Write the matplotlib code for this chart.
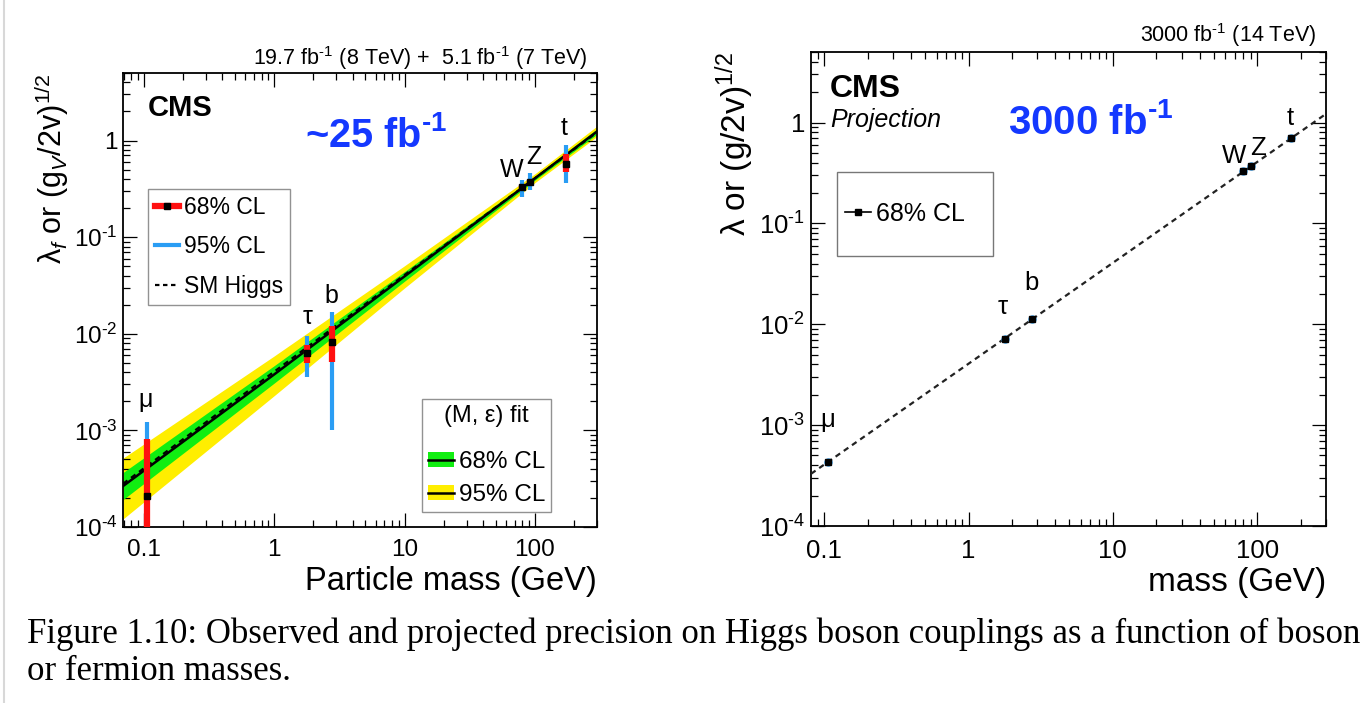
import numpy as np
import matplotlib
matplotlib.use("Agg")
import matplotlib.pyplot as plt
from matplotlib.lines import Line2D
from matplotlib.patches import Patch, Rectangle
from matplotlib.ticker import FixedLocator, NullFormatter, LogLocator

plt.rcParams['font.family'] = ['Liberation Sans', 'DejaVu Sans']
plt.rcParams['mathtext.fontset'] = 'custom'
plt.rcParams['mathtext.rm'] = 'Liberation Sans'
plt.rcParams['mathtext.it'] = 'Liberation Sans:italic'
plt.rcParams['mathtext.bf'] = 'Liberation Sans:bold'

HY = '\u2010'  # short hyphen used for superscript minus (ROOT style)

# ---------------- data ----------------
particles = ['μ', 'τ', 'b', 'W', 'Z', 't']
masses = [0.1057, 1.777, 2.75, 80.4, 91.19, 172.5]

# observed (left panel)
obs_central = [2.1e-4, 6.3e-3, 8.3e-3, 0.33, 0.37, 0.57]
obs_lo68 = [5e-5, 4.95e-3, 5.1e-3, 0.31, 0.35, 0.47]
obs_hi68 = [8.1e-4, 7.6e-3, 1.2e-2, 0.35, 0.39, 0.72]
obs_lo95 = [5e-5, 3.6e-3, 1.0e-3, 0.26, 0.31, 0.36]
obs_hi95 = [1.23e-3, 9.5e-3, 1.7e-2, 0.39, 0.46, 0.90]

# (M, eps) fit band (left panel)
band_mass = [0.069, 1, 10, 100, 300]
fit_central = [2.65e-4, 3.8e-3, 3.93e-2, 0.406, 1.24]
fit_lo68 = [1.92e-4, 3.09e-3, 3.5e-2, 0.388, 1.16]
fit_hi68 = [3.66e-4, 4.68e-3, 4.4e-2, 0.426, 1.32]
fit_lo95 = [1.21e-4, 2.29e-3, 2.98e-2, 0.366, 1.10]
fit_hi95 = [5.16e-4, 5.9e-3, 5.06e-2, 0.452, 1.41]

# SM Higgs expectation line
sm_mass = [0.069, 300]
sm_value = [2.8e-4, 1.218]
sm_mass_r = [0.081, 300]
sm_value_r = [3.29e-4, 1.218]

# projection (right panel)
proj_central = [4.3e-4, 7.2e-3, 1.12e-2, 0.327, 0.371, 0.70]
proj_lo68 = [4.1e-4, 6.95e-3, 1.08e-2, 0.318, 0.362, 0.67]
proj_hi68 = [4.5e-4, 7.45e-3, 1.16e-2, 0.336, 0.380, 0.73]

# label positions (mass, value)
lab_left = [(0.1025, 2.07e-3), (1.79, 1.48e-2), (2.76, 2.48e-2), (67, 0.49), (98, 0.675), (169, 1.35)]
lab_right = [(0.105, 1.12e-3), (1.72, 1.47e-2), (2.73, 2.55e-2), (68.9, 0.464), (101, 0.553), (169, 1.12)]

xticks = [0.1, 1, 10, 100]
xticklabels = ['0.1', '1', '10', '100']
yticks = [1e-4, 1e-3, 1e-2, 1e-1, 1]
yticklabels = [r'$10^{%s4}$' % HY, r'$10^{%s3}$' % HY, r'$10^{%s2}$' % HY, r'$10^{%s1}$' % HY, '1']

RED = '#ff1010'
BLUE = '#2a9df4'
GREEN = '#11ee11'
YELLOW = '#ffee00'
TXTBLUE = '#1438ff'

W, H = 1364, 703
fig = plt.figure(figsize=(W / 100, H / 100), dpi=100)

def px_axes(x0, y0, x1, y1):
    return fig.add_axes([x0 / W, 1 - y1 / H, (x1 - x0) / W, (y1 - y0) / H])

axL = px_axes(123, 73, 597, 527)
axR = px_axes(811, 52, 1326, 526)

def style(ax, xlim, fs):
    ax.set_xscale('log')
    ax.set_yscale('log')
    ax.set_xlim(*xlim)
    ax.set_ylim(1e-4, 5)
    ax.xaxis.set_major_locator(FixedLocator(xticks))
    ax.xaxis.set_ticklabels(xticklabels)
    ax.xaxis.set_minor_locator(LogLocator(base=10, subs=np.arange(2, 10)))
    ax.xaxis.set_minor_formatter(NullFormatter())
    ax.yaxis.set_major_locator(FixedLocator(yticks))
    ax.yaxis.set_ticklabels(yticklabels)
    ax.yaxis.set_minor_locator(LogLocator(base=10, subs=np.arange(2, 10)))
    ax.yaxis.set_minor_formatter(NullFormatter())
    ax.tick_params(which='both', direction='in', top=True, right=True, width=0.9, labelsize=fs)
    ax.tick_params(which='major', length=10)
    ax.tick_params(which='minor', length=5)
    ax.tick_params(axis='x', which='major', pad=9)
    ax.tick_params(axis='y', which='major', pad=4)
    for s in ax.spines.values():
        s.set_linewidth(1.3)

style(axL, (0.069, 300), 17.5)
style(axR, (0.081, 300), 18.5)

# ---------- left panel ----------
axL.fill_between(band_mass, fit_lo95, fit_hi95, color=YELLOW, lw=0, zorder=1)
axL.fill_between(band_mass, fit_lo68, fit_hi68, color=GREEN, lw=0, zorder=2)
axL.plot(band_mass, fit_central, color='k', lw=1.8, zorder=3)
axL.plot(sm_mass, sm_value, color='k', lw=1.6, ls=(0, (2.5, 2.0)), zorder=3)

for m, c, l6, h6, l9, h9 in zip(masses, obs_central, obs_lo68, obs_hi68, obs_lo95, obs_hi95):
    axL.plot([m, m], [l9, h9], color=BLUE, lw=3.0, solid_capstyle='butt', zorder=4)
    axL.plot([m, m], [l6, h6], color=RED, lw=4.5, solid_capstyle='butt', zorder=5)
    axL.plot([m], [c], marker='s', color='k', ms=4.5, zorder=6)

for p, (x, y) in zip(particles, lab_left):
    axL.text(x, y, p, fontsize=18, ha='center', va='center', zorder=7)

axL.text(0.053, 0.923, 'CMS', transform=axL.transAxes, fontsize=21, fontweight='bold',
         ha='left', va='center')
axL.text(0.384, 0.863, r'~25 fb$^{\mathbf{%s1}}$' % HY, transform=axL.transAxes, fontsize=28.5,
         fontweight='bold', color=TXTBLUE, ha='left', va='center')
fig.text(587 / W, 1 - 58 / H, r'19.7 fb$^{%s1}$ (8 TeV) +  5.1 fb$^{%s1}$ (7 TeV)' % (HY, HY),
         fontsize=15.5, ha='right', va='center')

axL.set_xlabel('Particle mass (GeV)', fontsize=23.5, ha='right', x=1.0, labelpad=3)
axL.set_ylabel(r'λ$_{f}$ or (g$_{V}$/2v)$^{1/2}$', fontsize=22, ha='right', y=1.0, labelpad=2)

h68 = Line2D([], [], color=RED, lw=4.5, marker='s', mfc='k', mec='k', ms=4.5)
h95 = Line2D([], [], color=BLUE, lw=3.0)
hsm = Line2D([], [], color='k', lw=1.6, ls=(0, (2.0, 1.6)))
leg1 = axL.legend([h68, h95, hsm], ['68% CL', '95% CL', 'SM Higgs'], loc='upper left',
                  bbox_to_anchor=(0.0527, 0.7445), fontsize=16.5, frameon=True, fancybox=False,
                  edgecolor='#777777', handlelength=1.05, handletextpad=0.2, labelspacing=0.72,
                  borderpad=0.3, borderaxespad=0)
leg1.get_frame().set_linewidth(1.0)
axL.add_artist(leg1)

hg = (Patch(facecolor=GREEN, edgecolor='none'), Line2D([], [], color='k', lw=1.8))
hy = (Patch(facecolor=YELLOW, edgecolor='none'), Line2D([], [], color='k', lw=1.8))
leg2 = axL.legend([hg, hy], ['68% CL', '95% CL'], loc='lower left',
                  bbox_to_anchor=(0.631, 0.033), fontsize=17.5, frameon=True, fancybox=False,
                  edgecolor='#777777', handlelength=1.05, handleheight=0.6, handletextpad=0.2,
                  labelspacing=0.45, borderpad=0.25, borderaxespad=0,
                  title='(M, ε) fit', title_fontsize=17)
leg2.get_frame().set_linewidth(1.0)
leg2._legend_box.sep = 17

# ---------- right panel ----------
axR.plot(sm_mass_r, sm_value_r, color='#222222', lw=1.6, ls=(0, (2.5, 2.0)), zorder=3)
for m, c, l6, h6 in zip(masses, proj_central, proj_lo68, proj_hi68):
    axR.plot([m], [c], marker='o', color=BLUE, ms=5, zorder=4)
    axR.plot([m, m], [l6, h6], color='k', lw=1.2, zorder=5)
    axR.plot([m], [c], marker='s', color='k', ms=5, zorder=6)

for p, (x, y) in zip(particles, lab_right):
    axR.text(x, y, p, fontsize=18.5, ha='center', va='center', zorder=7)

axR.text(0.037, 0.922, 'CMS', transform=axR.transAxes, fontsize=23, fontweight='bold',
         ha='left', va='center')
axR.text(0.037, 0.857, 'Projection', transform=axR.transAxes, fontsize=18, style='italic',
         ha='left', va='center')
axR.text(0.3816, 0.851, r'3000 fb$^{\mathbf{%s1}}$' % HY, transform=axR.transAxes, fontsize=29,
         fontweight='bold', color=TXTBLUE, ha='left', va='center')
fig.text(1316 / W, 1 - 35 / H, r'3000 fb$^{%s1}$ (14 TeV)' % HY, fontsize=15.5, ha='right', va='center')

axR.set_xlabel('mass (GeV)', fontsize=24, ha='right', x=1.0, labelpad=3)
axR.set_ylabel(r'λ or (g/2v)$^{1/2}$', fontsize=24, ha='right', y=1.0, labelpad=2)

# legend frame box of the right panel, with the entry centred inside
axR.add_patch(Rectangle((0.0505, 0.570), 0.303, 0.177, transform=axR.transAxes, fill=False,
                        edgecolor='#777777', lw=1.0, zorder=8))
hp = Line2D([], [], color='k', lw=1.2, marker='s', ms=5)
legR = axR.legend([hp], ['68% CL'], loc='center left', bbox_to_anchor=(0.0505, 0.6585),
                  fontsize=18, frameon=False, handlelength=1.05, handletextpad=0.2,
                  borderpad=0.3, borderaxespad=0)

# ---------- caption ----------
cap1 = 'Figure 1.10: Observed and projected precision on Higgs boson couplings as a function of boson'
cap2 = 'or fermion masses.'
fig.text(27 / W, 1 - 634 / H, cap1, fontsize=25, family='Liberation Serif', ha='left', va='center')
fig.text(27 / W, 1 - 672 / H, cap2, fontsize=25, family='Liberation Serif', ha='left', va='center')

fig.add_artist(Line2D([4 / W, 4 / W], [0, 1], transform=fig.transFigure, color='#d8d8d8', lw=1.5))

fig.savefig('out.png', dpi=100)
